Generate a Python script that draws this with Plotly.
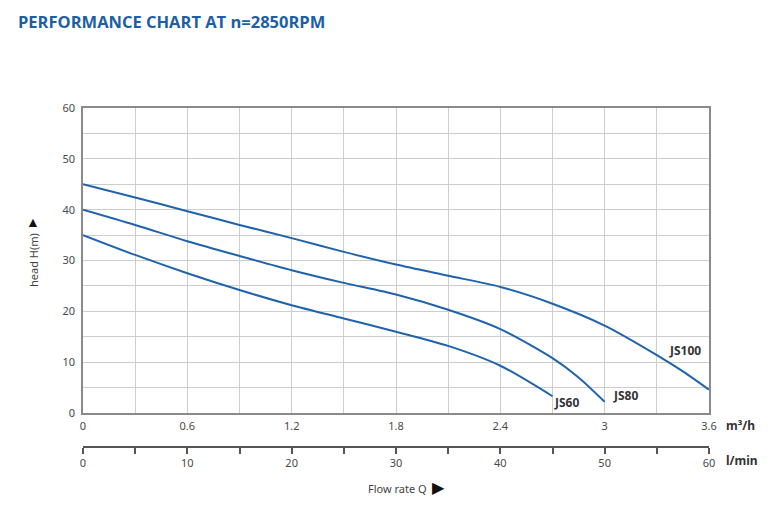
import plotly.graph_objects as go

# flow rate in m3/h, head in m
q_js100 = [0, 0.3, 0.6, 0.9, 1.2, 1.5, 1.8, 2.1, 2.4, 2.7, 3.0, 3.3, 3.45, 3.6]
h_js100 = [45, 42.4, 39.7, 37.0, 34.4, 31.7, 29.2, 27.0, 24.8, 21.5, 17.2, 11.4, 8.2, 4.6]

q_js80 = [0, 0.3, 0.6, 0.9, 1.2, 1.5, 1.8, 2.1, 2.4, 2.7, 2.85, 3.0]
h_js80 = [40, 37.0, 33.8, 30.9, 28.1, 25.6, 23.3, 20.3, 16.5, 10.8, 7.0, 2.2]

q_js60 = [0, 0.3, 0.6, 0.9, 1.2, 1.5, 1.8, 2.1, 2.4, 2.7]
h_js60 = [35, 31.1, 27.5, 24.2, 21.2, 18.6, 16.0, 13.2, 9.3, 3.3]

labels = ["JS100", "JS80", "JS60"]
label_q = [3.46, 3.12, 2.78]
label_h = [12.3, 3.35, 2.0]

# second flow scale (l/min)
lpm_range = [0, 60]

blue = '#1f63ad'
grid = '#cdcdcd'
axis_col = '#8a8a8a'
txt = '#4a4a4a'

fig = go.Figure()
for qq, hh in [(q_js100, h_js100), (q_js80, h_js80), (q_js60, h_js60)]:
    fig.add_trace(go.Scatter(x=qq, y=hh, mode='lines',
                             line=dict(color=blue, width=2, shape='spline', smoothing=0.8),
                             hoverinfo='skip'))

# invisible helper so the l/min axis gets drawn
fig.add_trace(go.Scatter(x=lpm_range, y=[0, 0], xaxis='x2', mode='lines',
                         line=dict(width=0), opacity=0, hoverinfo='skip'))

for name, lq, lh in zip(labels, label_q, label_h):
    fig.add_annotation(x=lq, y=lh, text="<b>" + name + "</b>", showarrow=False,
                       font=dict(size=12, color='#333333'))

# page has an 8px body margin, so the figure is 8px smaller than the window
W, H = 763, 512
fig.update_layout(
    width=W, height=H,
    margin=dict(l=75, r=62, t=100, b=73),
    paper_bgcolor='white', plot_bgcolor='white',
    showlegend=False,
    font=dict(family='Noto Sans', size=11, color=txt),
    title=dict(text="<b>PERFORMANCE CHART AT n=2850RPM</b>",
               x=10/W, xanchor='left', xref='container',
               y=1-14/H, yanchor='middle', yref='container',
               font=dict(family='Open Sans', size=16.5, color='#1d5fa5')),
    xaxis=dict(range=[0, 3.6], dtick=0.6, tick0=0, showgrid=True, gridcolor=grid,
               minor=dict(dtick=0.3, showgrid=True, gridcolor=grid),
               showline=True, linecolor=axis_col, linewidth=1.5, mirror=True,
               zeroline=False, ticks='', ticklabelstandoff=2),
    yaxis=dict(range=[0, 60], dtick=10, domain=[34/339, 1], showgrid=True, gridcolor=grid,
               minor=dict(dtick=5, showgrid=True, gridcolor=grid),
               showline=True, linecolor=axis_col, linewidth=1.5, mirror=True,
               zeroline=False, ticks='', ticklabelstandoff=4),
    xaxis2=dict(range=lpm_range, dtick=10, overlaying='x', anchor='free', position=0,
                side='bottom', showgrid=False, zeroline=False,
                showline=True, linecolor='#555555', linewidth=1.5,
                ticks='outside', ticklen=6, tickcolor='#555555', tickwidth=1.5,
                minor=dict(dtick=5, ticks='outside', ticklen=6, tickcolor='#555555', tickwidth=1.5)),
)

# axis units and titles
fig.add_annotation(x=1.024, y=(447-425)/339, xref='paper', yref='paper', xanchor='left', yanchor='middle',
                   text="<b>m³/h</b>", showarrow=False, font=dict(size=12, color='#333333'))
fig.add_annotation(x=1.024, y=(447-460)/339, xref='paper', yref='paper', xanchor='left', yanchor='middle',
                   text="<b>l/min</b>", showarrow=False, font=dict(size=12, color='#333333'))
fig.add_annotation(x=(407-83)/626, y=(447-487)/339, xref='paper', yref='paper',
                   xanchor='center', yanchor='middle',
                   text="Flow rate Q  <span style='font-size:16px;color:#111'>▶</span>",
                   showarrow=False, font=dict(size=11, color='#444444'))
fig.add_annotation(x=(33-83)/626, y=(447-260)/339, xref='paper', yref='paper',
                   xanchor='center', yanchor='middle',
                   text="head H(m)", textangle=-90, showarrow=False,
                   font=dict(size=11, color='#444444'))
fig.add_annotation(x=(33-83)/626, y=(447-221)/339, xref='paper', yref='paper',
                   xanchor='center', yanchor='middle',
                   text="▲", showarrow=False, font=dict(size=14, color='#111111'))

fig.write_html("out.html")
